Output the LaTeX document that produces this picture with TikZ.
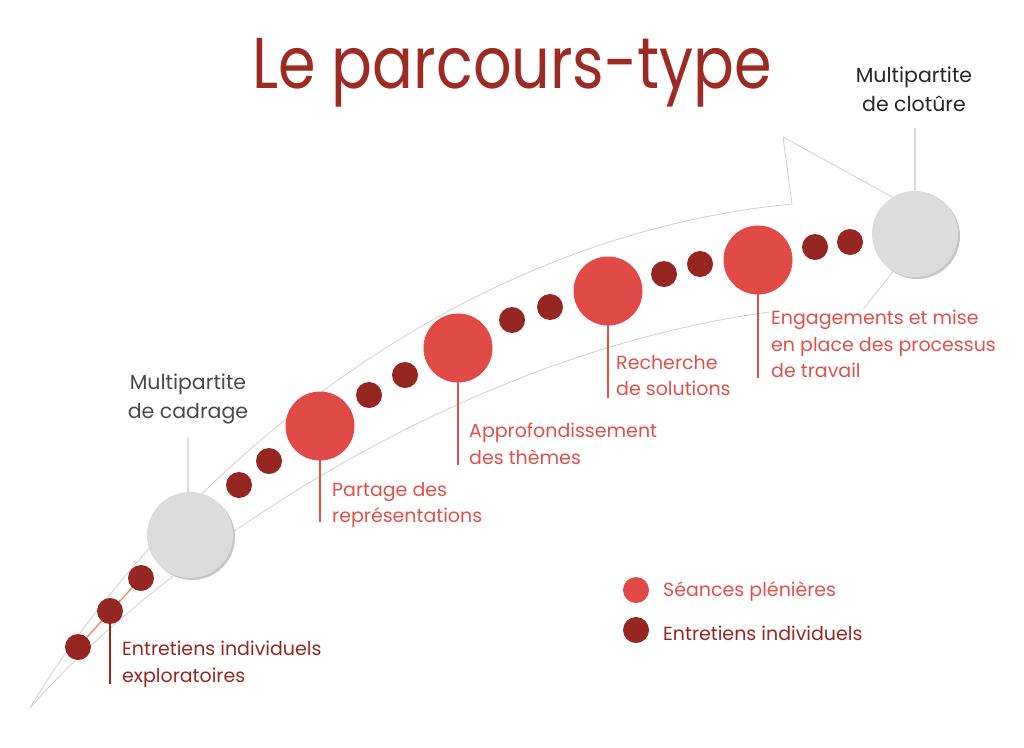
\documentclass[tikz,border=0pt]{standalone}
\usepackage{fontspec}
\setmainfont{Poppins}
\newfontfamily\titlefont[FakeStretch=0.84]{Poppins}
\definecolor{titlered}{HTML}{9B2B23}
\definecolor{bigred}{HTML}{E04A47}
\definecolor{darkred}{HTML}{962622}
\definecolor{graycirc}{HTML}{DCDCDC}
\definecolor{grayshadow}{HTML}{C6C6C6}
\definecolor{arrowgray}{HTML}{CFCFCF}
\definecolor{labelred}{HTML}{E0504B}
\definecolor{textgray}{HTML}{4A4A4A}
\definecolor{textdark}{HTML}{262626}
\tikzset{
  smalldot/.style={circle,fill=darkred,minimum size=26pt,inner sep=0pt},
  bigdot/.style={circle,fill=bigred,minimum size=69pt,inner sep=0pt},
  graydot/.style={circle,fill=graycirc,minimum size=86pt,inner sep=0pt},
  redlabel/.style={anchor=north west,align=left,inner sep=1pt,text=labelred,font=\fontsize{19}{26.5}\selectfont},
  graylabel/.style={anchor=north,align=center,inner sep=0pt,text=textgray,font=\fontsize{20.5}{29}\selectfont},
  stem/.style={line width=2.2pt,labelred},
  graystem/.style={line width=1.6pt,graycirc},
  arrowline/.style={line width=0.8pt,arrowgray,line join=round}
}
\begin{document}
\begin{tikzpicture}[x=1pt,y=-1pt]
\useasboundingbox (0,0) rectangle (1024,747);
% big arrow outline
\draw[arrowline] (30,708) .. controls (145,515) and (420,240) .. (792,204)
  -- (783,137) -- (934,220) -- (819,365) -- (785,310)
  .. controls (450,350) and (150,570) .. (30,708);
% connector among first dots
\draw[line width=1.4pt,color=bigred!60!orange!70] (78,647) -- (141,578);
% stems
\draw[graystem] (188,437) -- (188,495);
\draw[graystem] (915,128) -- (915,192);
\draw[line width=2.2pt,darkred] (110,624) -- (110,684);
\draw[stem] (320,460) -- (320,522);
\draw[stem] (458,382) -- (458,465);
\draw[stem] (608,325) -- (608,398);
\draw[stem] (758,294) -- (758,378);
% gray circles with shadow
\fill[grayshadow] (192,537) circle (43);
\node[graydot] (cadrage) at (190,535) {};
\fill[grayshadow] (917,236) circle (43);
\node[graydot] (cloture) at (915,234) {};
% small dots
\node[smalldot] (e1) at (78,647) {};
\node[smalldot] (e2) at (110,611) {};
\node[smalldot] (e3) at (141,578) {};
\node[smalldot] (e4) at (239,485) {};
\node[smalldot] (e5) at (269,461) {};
\node[smalldot] (e6) at (369,395) {};
\node[smalldot] (e7) at (405,375) {};
\node[smalldot] (e8) at (512,320) {};
\node[smalldot] (e9) at (550,307) {};
\node[smalldot] (e10) at (664,274) {};
\node[smalldot] (e11) at (700,264) {};
\node[smalldot] (e12) at (815,247) {};
\node[smalldot] (e13) at (850,242) {};
% big red circles
\node[bigdot] (p1) at (320,426) {};
\node[bigdot] (p2) at (458,348) {};
\node[bigdot] (p3) at (608,291) {};
\node[bigdot] (p4) at (758,260) {};
% title
\node[anchor=base west,inner sep=0pt,text=titlered,font=\titlefont\fontsize{72}{80}\selectfont] (title) at (252,88) {Le parcours-type};
% gray labels
\node[graylabel,text=textdark] (lcloture) at (914,67) {Multipartite\\de clotûre};
\node[graylabel] (lcadrage) at (188,374) {Multipartite\\de cadrage};
% red labels
\node[redlabel] (l1) at (331,481) {Partage des\\représentations};
\node[redlabel] (l2) at (468,422) {Approfondissement\\des thèmes};
\node[redlabel] (l3) at (615,354) {Recherche\\de solutions};
\node[redlabel,fill=white] (l4) at (770,309) {Engagements et mise\\en place des processus\\de travail};
\node[redlabel,text=darkred] (l0) at (121,640) {Entretiens individuels\\exploratoires};
% legend
\node[circle,fill=bigred,minimum size=26pt,inner sep=0pt] (leg1) at (636,590) {};
\node[smalldot] (leg2) at (636,630) {};
\node[anchor=west,inner sep=0pt,text=labelred,font=\fontsize{19}{24}\selectfont] (legt1) at (663,592) {Séances plénières};
\node[anchor=west,inner sep=0pt,text=darkred,font=\fontsize{19}{24}\selectfont] (legt2) at (663,633) {Entretiens individuels};
\end{tikzpicture}
\end{document}
